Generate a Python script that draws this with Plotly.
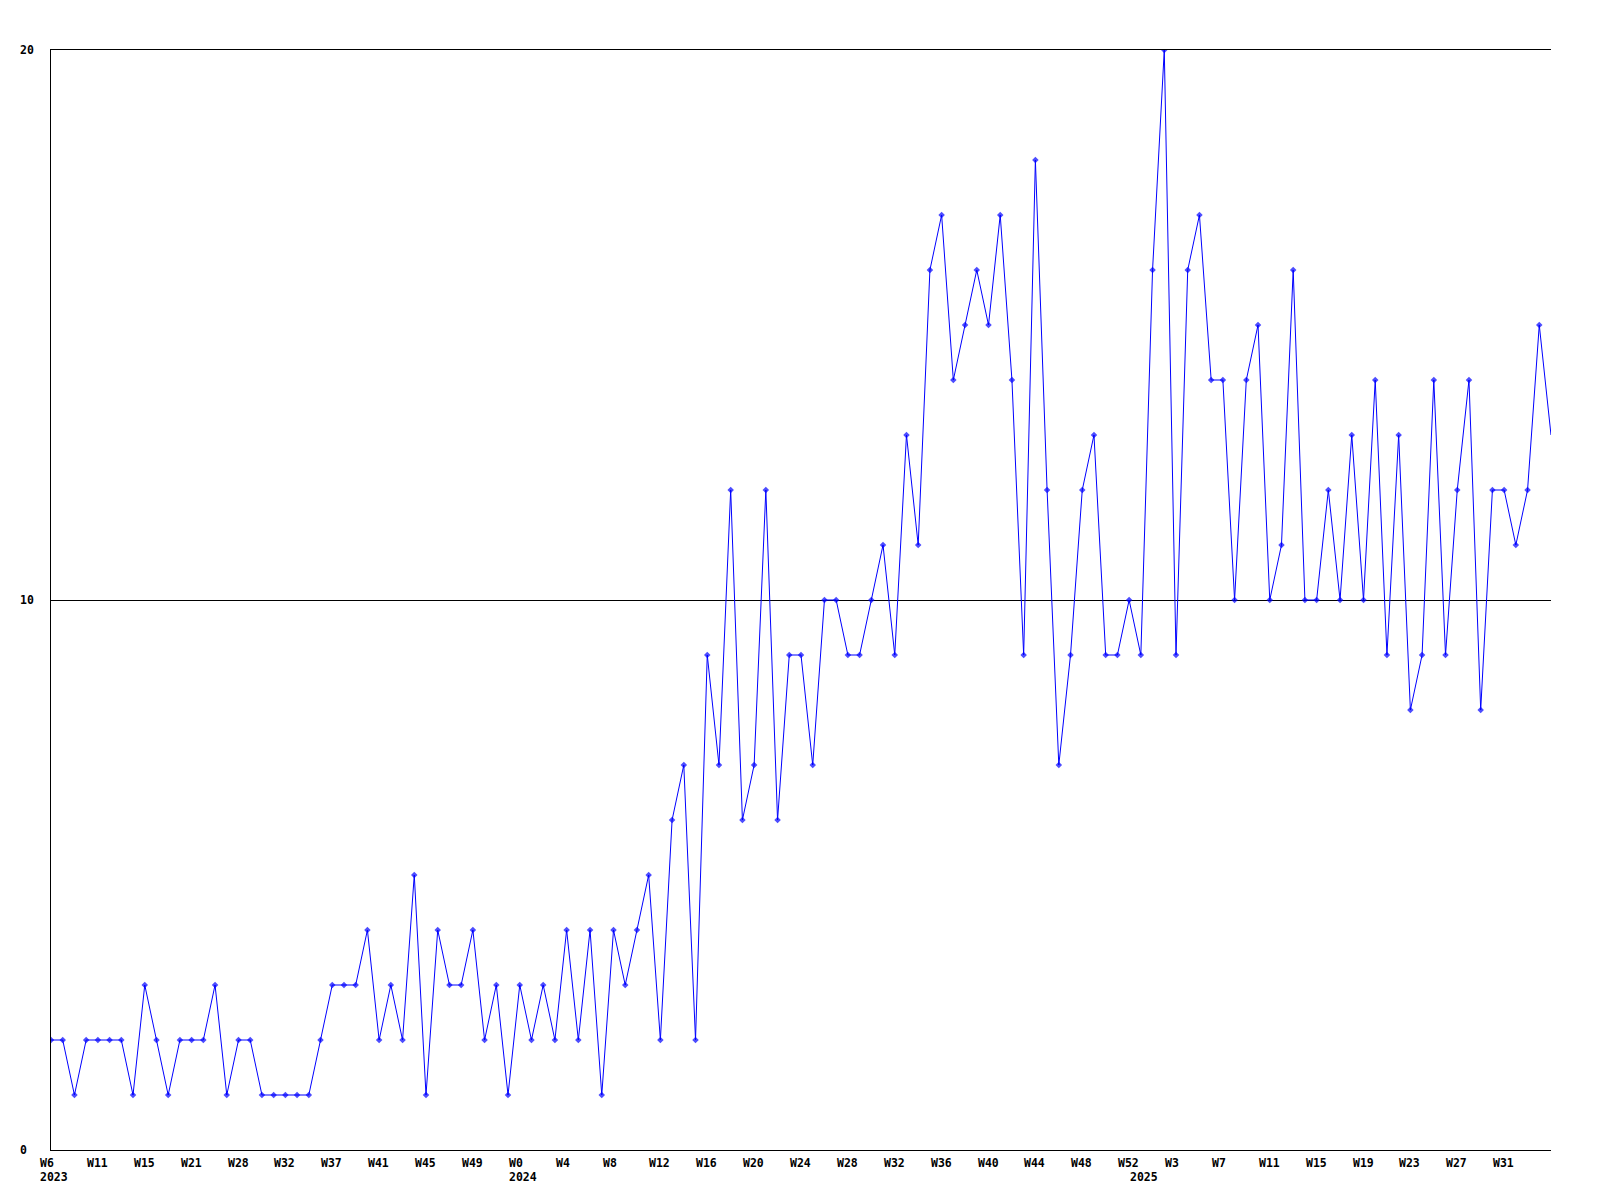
import plotly.graph_objects as go

# Weekly values, 2023 W6 .. 2025
values = [2, 2, 1, 2, 2, 2, 2, 1, 3, 2, 1, 2, 2, 2, 3, 1, 2, 2, 1, 1,
          1, 1, 1, 2, 3, 3, 3, 4, 2, 3, 2, 5, 1, 4, 3, 3, 4, 2, 3, 1,
          3, 2, 3, 2, 4, 2, 4, 1, 4, 3, 4, 5, 2, 6, 7, 2, 9, 7, 12, 6,
          7, 12, 6, 9, 9, 7, 10, 10, 9, 9, 10, 11, 9, 13, 11, 16, 17, 14, 15, 16,
          15, 17, 14, 9, 18, 12, 7, 9, 12, 13, 9, 9, 10, 9, 16, 20, 9, 16, 17, 14,
          14, 10, 14, 15, 10, 11, 16, 10, 10, 12, 10, 13, 10, 14, 9, 13, 8, 9, 14, 9,
          12, 14, 8, 12, 12, 11, 12, 15, 13]

# X tick labels, one every 4 points
tick_step = 4
tick_labels = ["W6", "W11", "W15", "W21", "W28", "W32", "W37", "W41", "W45", "W49",
               "W0", "W4", "W8", "W12", "W16", "W20", "W24", "W28", "W32", "W36",
               "W40", "W44", "W48", "W52", "W3", "W7", "W11", "W15", "W19", "W23",
               "W27", "W31"]
# Year labels and the point where each year starts
year_labels = ["2023", "2024", "2025"]
year_starts = [0, 40, 93]

# Y ticks
y_ticks = [0, 10, 20]

x = list(range(len(values)))
n = len(values)

FONT = dict(family="DejaVu Sans Mono", size=11.5, color="black", weight="bold")

fig = go.Figure()
fig.add_trace(go.Scatter(
    x=x, y=values, mode="lines+markers",
    line=dict(color="#0000ff", width=1),
    marker=dict(symbol="diamond", size=[5] * (n - 1) + [0], color="#0000ff",
                line=dict(width=0)),
    showlegend=False, hoverinfo="x+y",
))

annotations = []
for i, lab in enumerate(tick_labels):
    annotations.append(dict(
        x=i * tick_step, xref="x", y=0, yref="paper", text=lab,
        showarrow=False, xanchor="left", yanchor="middle",
        xshift=-13, yshift=-12.5, font=FONT,
    ))
for lab, idx in zip(year_labels, year_starts):
    annotations.append(dict(
        x=idx, xref="x", y=0, yref="paper", text=lab,
        showarrow=False, xanchor="left", yanchor="middle",
        xshift=-13, yshift=-27, font=FONT,
    ))
for v in y_ticks:
    annotations.append(dict(
        x=0, xref="paper", y=v, yref="y", text=str(v),
        showarrow=False, xanchor="left", yanchor="middle",
        xshift=-33, font=FONT,
    ))

# page body has an 8px margin, so the figure is sized/offset to compensate
fig.update_layout(
    width=1584, height=1184,
    margin=dict(l=43, r=41, t=42, b=42),
    paper_bgcolor="white", plot_bgcolor="white",
    font=FONT,
    annotations=annotations,
    xaxis=dict(range=[0, n - 1], showgrid=False, zeroline=False,
               showline=True, mirror=True, linecolor="black", linewidth=1,
               showticklabels=False, ticks=""),
    yaxis=dict(range=[0, 20], tickvals=y_ticks, showgrid=True,
               gridcolor="black", gridwidth=1, zeroline=False,
               showline=True, linecolor="black", linewidth=1,
               showticklabels=False, ticks=""),
)

fig.write_html("out.html")
